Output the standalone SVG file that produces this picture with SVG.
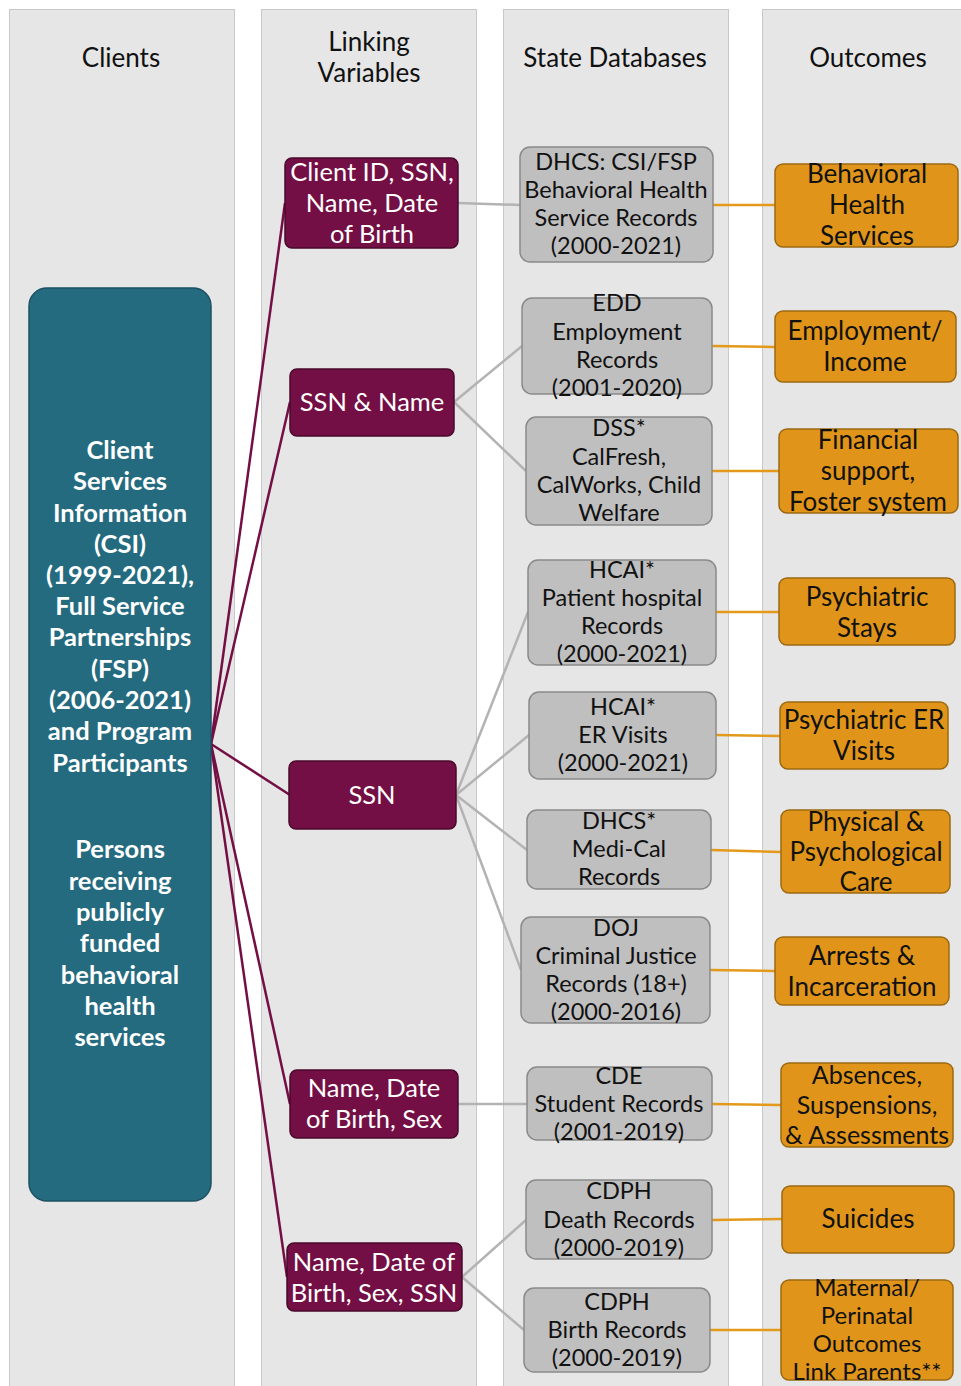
<svg xmlns="http://www.w3.org/2000/svg" width="961" height="1386" viewBox="0 0 961 1386">
<style>
.col{fill:#e6e6e6;stroke:#c8c8c8;stroke-width:1}
.hdr{font-family:Lato,"Open Sans",sans-serif;font-size:26px;fill:#111;text-anchor:middle}
.teal{fill:#256b80;stroke:#1b5263;stroke-width:1.5}
.tt{font-family:Lato,"Open Sans",sans-serif;font-weight:bold;font-size:25.5px;fill:#fff;text-anchor:middle}
.mag{fill:#730f44;stroke:#4a0a2c;stroke-width:1.5}
.mt{font-family:Lato,"Open Sans",sans-serif;font-size:25.5px;fill:#fff;text-anchor:middle}
.gry{fill:#bfbfbf;stroke:#8a8a8a;stroke-width:1.5}
.gt{font-family:Lato,"Open Sans",sans-serif;font-size:23.5px;fill:#111;text-anchor:middle}
.org{fill:#e0951a;stroke:#9c6a12;stroke-width:1.5}
.ot{font-family:Lato,"Open Sans",sans-serif;font-size:26px;fill:#111;text-anchor:middle}
.ot2{font-family:Lato,"Open Sans",sans-serif;font-size:25px;fill:#111;text-anchor:middle}
.ot3{font-family:Lato,"Open Sans",sans-serif;font-size:24px;fill:#111;text-anchor:middle}
.lm{stroke:#730f44;stroke-width:2.5;fill:none}
.lg{stroke:#b3b3b3;stroke-width:2.5;fill:none}
.lo{stroke:#e39a1b;stroke-width:2.5;fill:none}
</style>
<rect width="961" height="1386" fill="#fff"/>
<g id="columns">
<rect class="col" x="9.5" y="9.5" width="225" height="1380"/>
<rect class="col" x="261.5" y="9.5" width="215" height="1380"/>
<rect class="col" x="503.5" y="9.5" width="225" height="1380"/>
<rect class="col" x="762.5" y="9.5" width="205" height="1380"/>
<text class="hdr" x="121" y="67">Clients</text>
<text class="hdr" x="369" y="51">Linking</text>
<text class="hdr" x="369" y="82">Variables</text>
<text class="hdr" x="615" y="67">State Databases</text>
<text class="hdr" x="868" y="67">Outcomes</text>
</g>
<g id="connectors">
<line class="lm" x1="211" y1="744" x2="285" y2="203"/>
<line class="lm" x1="211" y1="744" x2="290" y2="402"/>
<line class="lm" x1="211" y1="744" x2="290" y2="795"/>
<line class="lm" x1="211" y1="744" x2="290" y2="1104"/>
<line class="lm" x1="211" y1="744" x2="287" y2="1277"/>
<line class="lg" x1="458" y1="203" x2="520" y2="205"/>
<line class="lg" x1="454" y1="402" x2="522" y2="346"/>
<line class="lg" x1="454" y1="402" x2="526" y2="471"/>
<line class="lg" x1="456" y1="795" x2="528" y2="612"/>
<line class="lg" x1="456" y1="795" x2="529" y2="735"/>
<line class="lg" x1="456" y1="795" x2="527" y2="850"/>
<line class="lg" x1="456" y1="795" x2="521" y2="970"/>
<line class="lg" x1="458" y1="1104" x2="527" y2="1104"/>
<line class="lg" x1="462" y1="1277" x2="526" y2="1220"/>
<line class="lg" x1="462" y1="1277" x2="524" y2="1330"/>
<line class="lo" x1="713" y1="205" x2="775" y2="205"/>
<line class="lo" x1="712" y1="346" x2="775" y2="347"/>
<line class="lo" x1="712" y1="471" x2="779" y2="471"/>
<line class="lo" x1="716" y1="612" x2="779" y2="612"/>
<line class="lo" x1="716" y1="735" x2="780" y2="736"/>
<line class="lo" x1="711" y1="850" x2="781" y2="852"/>
<line class="lo" x1="710" y1="970" x2="775" y2="971"/>
<line class="lo" x1="712" y1="1104" x2="781" y2="1105"/>
<line class="lo" x1="712" y1="1220" x2="782" y2="1219"/>
<line class="lo" x1="710" y1="1330" x2="781" y2="1330"/>
</g>
<g id="clients">
<rect class="teal" x="29" y="288" width="182" height="913" rx="18"/>
<text class="tt" x="120" y="459">Client</text>
<text class="tt" x="120" y="490">Services</text>
<text class="tt" x="120" y="522">Information</text>
<text class="tt" x="120" y="553">(CSI)</text>
<text class="tt" x="120" y="584">(1999-2021),</text>
<text class="tt" x="120" y="615">Full Service</text>
<text class="tt" x="120" y="646">Partnerships</text>
<text class="tt" x="120" y="678">(FSP)</text>
<text class="tt" x="120" y="709">(2006-2021)</text>
<text class="tt" x="120" y="740">and Program</text>
<text class="tt" x="120" y="772">Participants</text>
<text class="tt" x="120" y="858">Persons</text>
<text class="tt" x="120" y="890">receiving</text>
<text class="tt" x="120" y="921">publicly</text>
<text class="tt" x="120" y="952">funded</text>
<text class="tt" x="120" y="984">behavioral</text>
<text class="tt" x="120" y="1015">health</text>
<text class="tt" x="120" y="1046">services</text>
</g>
<g id="link1">
<rect class="mag" x="285" y="158" width="173" height="90" rx="7"/>
<text class="mt" x="372" y="181">Client ID, SSN,</text>
<text class="mt" x="372" y="212">Name, Date</text>
<text class="mt" x="372" y="243">of Birth</text>
</g>
<g id="link2">
<rect class="mag" x="290" y="369" width="164" height="67" rx="7"/>
<text class="mt" x="372" y="411">SSN &amp; Name</text>
</g>
<g id="link3">
<rect class="mag" x="289" y="761" width="167" height="68" rx="7"/>
<text class="mt" x="372" y="804">SSN</text>
</g>
<g id="link4">
<rect class="mag" x="290" y="1070" width="168" height="68" rx="7"/>
<text class="mt" x="374" y="1097">Name, Date</text>
<text class="mt" x="374" y="1128">of Birth, Sex</text>
</g>
<g id="link5">
<rect class="mag" x="287" y="1243" width="175" height="68" rx="7"/>
<text class="mt" x="374" y="1271">Name, Date of</text>
<text class="mt" x="374" y="1302">Birth, Sex, SSN</text>
</g>
<g id="db1">
<rect class="gry" x="520" y="147" width="193" height="115" rx="10"/>
<text class="gt" x="616" y="170">DHCS: CSI/FSP</text>
<text class="gt" x="616" y="198">Behavioral Health</text>
<text class="gt" x="616" y="226">Service Records</text>
<text class="gt" x="616" y="254">(2000-2021)</text>
</g>
<g id="db2">
<rect class="gry" x="522" y="298" width="190" height="96" rx="10"/>
<text class="gt" x="617" y="311">EDD</text>
<text class="gt" x="617" y="340">Employment</text>
<text class="gt" x="617" y="368">Records</text>
<text class="gt" x="617" y="396">(2001-2020)</text>
</g>
<g id="db3">
<rect class="gry" x="526" y="417" width="186" height="108" rx="10"/>
<text class="gt" x="619" y="436">DSS*</text>
<text class="gt" x="619" y="465">CalFresh,</text>
<text class="gt" x="619" y="493">CalWorks, Child</text>
<text class="gt" x="619" y="521">Welfare</text>
</g>
<g id="db4">
<rect class="gry" x="528" y="560" width="188" height="105" rx="10"/>
<text class="gt" x="622" y="578">HCAI*</text>
<text class="gt" x="622" y="606">Patient hospital</text>
<text class="gt" x="622" y="634">Records</text>
<text class="gt" x="622" y="662">(2000-2021)</text>
</g>
<g id="db5">
<rect class="gry" x="529" y="692" width="187" height="87" rx="10"/>
<text class="gt" x="623" y="715">HCAI*</text>
<text class="gt" x="623" y="743">ER Visits</text>
<text class="gt" x="623" y="771">(2000-2021)</text>
</g>
<g id="db6">
<rect class="gry" x="527" y="810" width="184" height="79" rx="10"/>
<text class="gt" x="619" y="829">DHCS*</text>
<text class="gt" x="619" y="857">Medi-Cal</text>
<text class="gt" x="619" y="885">Records</text>
</g>
<g id="db7">
<rect class="gry" x="521" y="917" width="189" height="106" rx="10"/>
<text class="gt" x="616" y="936">DOJ</text>
<text class="gt" x="616" y="964">Criminal Justice</text>
<text class="gt" x="616" y="992">Records (18+)</text>
<text class="gt" x="616" y="1020">(2000-2016)</text>
</g>
<g id="db8">
<rect class="gry" x="527" y="1067" width="185" height="73" rx="10"/>
<text class="gt" x="619" y="1084">CDE</text>
<text class="gt" x="619" y="1112">Student Records</text>
<text class="gt" x="619" y="1140">(2001-2019)</text>
</g>
<g id="db9">
<rect class="gry" x="526" y="1180" width="186" height="79" rx="10"/>
<text class="gt" x="619" y="1199">CDPH</text>
<text class="gt" x="619" y="1228">Death Records</text>
<text class="gt" x="619" y="1256">(2000-2019)</text>
</g>
<g id="db10">
<rect class="gry" x="524" y="1288" width="186" height="84" rx="10"/>
<text class="gt" x="617" y="1310">CDPH</text>
<text class="gt" x="617" y="1338">Birth Records</text>
<text class="gt" x="617" y="1366">(2000-2019)</text>
</g>
<g id="out1">
<rect class="org" x="775" y="164" width="183" height="83" rx="8"/>
<text class="ot" x="867" y="183">Behavioral</text>
<text class="ot" x="867" y="214">Health</text>
<text class="ot" x="867" y="245">Services</text>
</g>
<g id="out2">
<rect class="org" x="775" y="311" width="181" height="71" rx="8"/>
<text class="ot" x="865" y="340">Employment/</text>
<text class="ot" x="865" y="371">Income</text>
</g>
<g id="out3">
<rect class="org" x="779" y="429" width="179" height="84" rx="8"/>
<text class="ot" x="868" y="449">Financial</text>
<text class="ot" x="868" y="480">support,</text>
<text class="ot" x="868" y="511">Foster system</text>
</g>
<g id="out4">
<rect class="org" x="779" y="578" width="176" height="67" rx="8"/>
<text class="ot" x="867" y="606">Psychiatric</text>
<text class="ot" x="867" y="637">Stays</text>
</g>
<g id="out5">
<rect class="org" x="780" y="702" width="168" height="67" rx="8"/>
<text class="ot" x="864" y="729">Psychiatric ER</text>
<text class="ot" x="864" y="760">Visits</text>
</g>
<g id="out6">
<rect class="org" x="781" y="810" width="169" height="83" rx="8"/>
<text class="ot" x="866" y="831">Physical &amp;</text>
<text class="ot" x="866" y="861">Psychological</text>
<text class="ot" x="866" y="891">Care</text>
</g>
<g id="out7">
<rect class="org" x="775" y="937" width="174" height="68" rx="8"/>
<text class="ot" x="862" y="965">Arrests &amp;</text>
<text class="ot" x="862" y="996">Incarceration</text>
</g>
<g id="out8">
<rect class="org" x="781" y="1063" width="172" height="84" rx="8"/>
<text class="ot2" x="867" y="1084">Absences,</text>
<text class="ot2" x="867" y="1114">Suspensions,</text>
<text class="ot2" x="867" y="1144">&amp; Assessments</text>
</g>
<g id="out9">
<rect class="org" x="782" y="1186" width="172" height="67" rx="8"/>
<text class="ot" x="868" y="1228">Suicides</text>
</g>
<g id="out10">
<rect class="org" x="781" y="1280" width="172" height="100" rx="8"/>
<text class="ot3" x="867" y="1296">Maternal/</text>
<text class="ot3" x="867" y="1324">Perinatal</text>
<text class="ot3" x="867" y="1352">Outcomes</text>
<text class="ot3" x="867" y="1380">Link Parents**</text>
</g>
</svg>
